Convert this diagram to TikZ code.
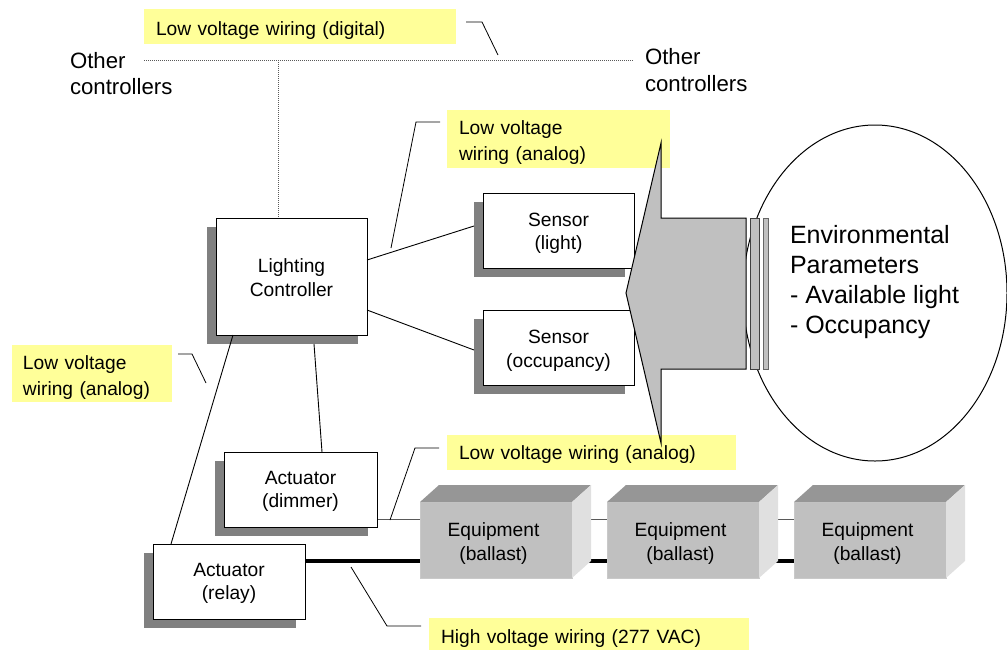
\documentclass[tikz,border=0pt]{standalone}
\usepackage{fontspec}
\setmainfont{Liberation Sans}
\usetikzlibrary{shapes.geometric,shadows,calc,backgrounds}
\definecolor{note}{HTML}{FFFF99}
\definecolor{shade}{HTML}{808080}
\definecolor{front}{HTML}{C0C0C0}
\definecolor{topface}{HTML}{969696}
\definecolor{sideface}{HTML}{E0E0E0}
\newcommand{\fs}[2]{\fontsize{#1}{#2}\selectfont}
\tikzset{
  x=1pt,y=-1pt,
  every node/.style={inner sep=0pt,outer sep=0pt,text=black},
  notebox/.style={fill=note,anchor=north west},
  notetext/.style={align=left,font=\fs{19.2}{26}},
  labeltext/.style={align=left,font=\fs{22.2}{26.8}},
  devbox/.style={draw=black,line width=1pt,fill=white,anchor=north west,
    drop shadow={shadow xshift=-9.5pt,shadow yshift=-9pt,fill=shade,opacity=1}},
  devtext/.style={align=center,font=\fs{19.2}{23.5}},
  eqfront/.style={fill=front,draw=front!85!white,line width=.8pt,anchor=north west,
    minimum width=152pt,minimum height=76pt,
    label={[devtext,xshift=-2.5pt,yshift=-3.5pt]center:{Equipment\\(ballast)}}},
  lead/.style={draw=black,line width=.8pt},
  wire/.style={draw=black,line width=.9pt},
  thinwire/.style={draw=black!65,line width=1pt},
  hvwire/.style={draw=black,line width=4pt},
  buswire/.style={draw=black!65,line width=1pt,dash pattern=on 1pt off 1pt},
  solidshape/.style={fill=front,draw=black,line width=1pt}
}
\newcommand{\eqdeco}[1]{%
  \fill[topface] (#1.north west) -- ++(19,-17) -- ($(#1.north east)+(19,-17)$) -- (#1.north east) -- cycle;
  \fill[sideface] (#1.north east) -- ++(19,-17) -- ($(#1.south east)+(19,-17)$) -- (#1.south east) -- cycle;
}
\begin{document}
\begin{tikzpicture}
\useasboundingbox (0,0) rectangle (1007,649);
% notes
\node[notebox,minimum width=312pt,minimum height=35pt,label={[notetext,text width=288pt,yshift=-4pt]center:{Low voltage wiring (digital)}}] (n1) at (144,9) {};
\node[notebox,minimum width=223pt,minimum height=58pt,label={[notetext,text width=199pt,yshift=-3.5pt]center:{Low voltage\\wiring (analog)}}] (n2) at (447,110) {};
\node[notebox,minimum width=160pt,minimum height=57pt,label={[notetext,text width=138pt,yshift=-4pt]center:{Low voltage\\wiring (analog)}}] (n3) at (12,345) {};
\node[notebox,minimum width=289pt,minimum height=35pt,label={[notetext,text width=265pt,yshift=-2.5pt]center:{Low voltage wiring (analog)}}] (n4) at (447,435) {};
\node[notebox,minimum width=320pt,minimum height=38pt,label={[notetext,text width=296pt,yshift=-1.5pt]center:{High voltage wiring (277 VAC)}}] (n5) at (429,618) {};
% environment
\node[draw=black,line width=1pt,ellipse,minimum width=264pt,minimum height=336pt,anchor=center] (env) at (875,293) {};
\node[anchor=west,align=left,font=\fs{25}{29.7}] (envt) at (790,282) {Environmental\\Parameters\\- Available light\\- Occupancy};
% labels
\node[labeltext,anchor=north west] (ol) at (70,52) {Other\\controllers};
\node[labeltext,anchor=north west] (or) at (645,48.5) {Other\\controllers};
% devices
\node[devbox,minimum width=151pt,minimum height=117pt,label={[devtext,yshift=-1pt]center:{Lighting\\Controller}}] (ctrl) at (216,218) {};
\node[devbox,minimum width=151pt,minimum height=75pt,label={[devtext,yshift=-3pt]center:{Sensor\\(light)}}] (s1) at (483,193) {};
\node[devbox,minimum width=151pt,minimum height=75pt,label={[devtext,yshift=-3.5pt]center:{Sensor\\(occupancy)}}] (s2) at (483,310) {};
\node[devbox,minimum width=153pt,minimum height=75pt,label={[devtext,yshift=-2pt]center:{Actuator\\(dimmer)}}] (dim) at (224,452) {};
\node[devbox,minimum width=152pt,minimum height=75pt,label={[devtext,yshift=-2pt]center:{Actuator\\(relay)}}] (rel) at (153,544) {};
% bus
\coordinate (busl) at (144,60);
\coordinate (busr) at (633,60);
\coordinate (busj) at (278,60);
\draw[buswire] (busl) -- (busr);
\draw[buswire] (busj) -- (busj |- ctrl.north);
% control wires
\coordinate (c1) at (367,260); \coordinate (c2) at (367,310);
\coordinate (c3) at (314,344); \coordinate (c4) at (233,335);
\coordinate (s1in) at (474,226); \coordinate (s2in) at (474,350);
\coordinate (dimin) at (322,452); \coordinate (relin) at (171,544);
\draw[wire] (c1) -- (s1in);
\draw[wire] (c2) -- (s2in);
\draw[wire] (c3) -- (dimin);
\draw[wire] (c4) -- (relin);
% equipment
\coordinate (dimout) at (377,519);
\coordinate (relout) at (305,561);
\node[eqfront] (e1) at (420,502) {};
\node[eqfront] (e2) at (607,502) {};
\node[eqfront] (e3) at (794,502) {};
\eqdeco{e1}\eqdeco{e2}\eqdeco{e3}
\begin{pgfonlayer}{background}
\draw[thinwire] (dimout) -- (dimout -| e3.west);
\draw[hvwire] (relout) -- (relout -| e3.west);
\end{pgfonlayer}
% big arrow and strips
\draw[solidshape,line join=miter] (746,218) -- (661,218) -- (661,143) -- (626,293) -- (661,443) -- (661,369) -- (746,369) -- cycle;
\draw[solidshape,draw=black!75] (750,218) rectangle (759,369);
\draw[solidshape,draw=black!60] (763.5,218) rectangle (768,369);
% leaders
\coordinate (l1a) at (466,22); \coordinate (l1b) at (482,22); \coordinate (l1c) at (498,55);
\draw[lead] (l1a) -- (l1b) -- (l1c);
\coordinate (l2a) at (440,122); \coordinate (l2b) at (416,122); \coordinate (l2c) at (391,248);
\draw[lead] (l2a) -- (l2b) -- (l2c);
\coordinate (l3a) at (178,354); \coordinate (l3b) at (192,354); \coordinate (l3c) at (206,383);
\draw[lead] (l3a) -- (l3b) -- (l3c);
\coordinate (l4a) at (439,448); \coordinate (l4b) at (415,448); \coordinate (l4c) at (390,520);
\draw[lead] (l4a) -- (l4b) -- (l4c);
\coordinate (l5a) at (421,626); \coordinate (l5b) at (387,626); \coordinate (l5c) at (351,567);
\draw[lead] (l5a) -- (l5b) -- (l5c);
\end{tikzpicture}
\end{document}
